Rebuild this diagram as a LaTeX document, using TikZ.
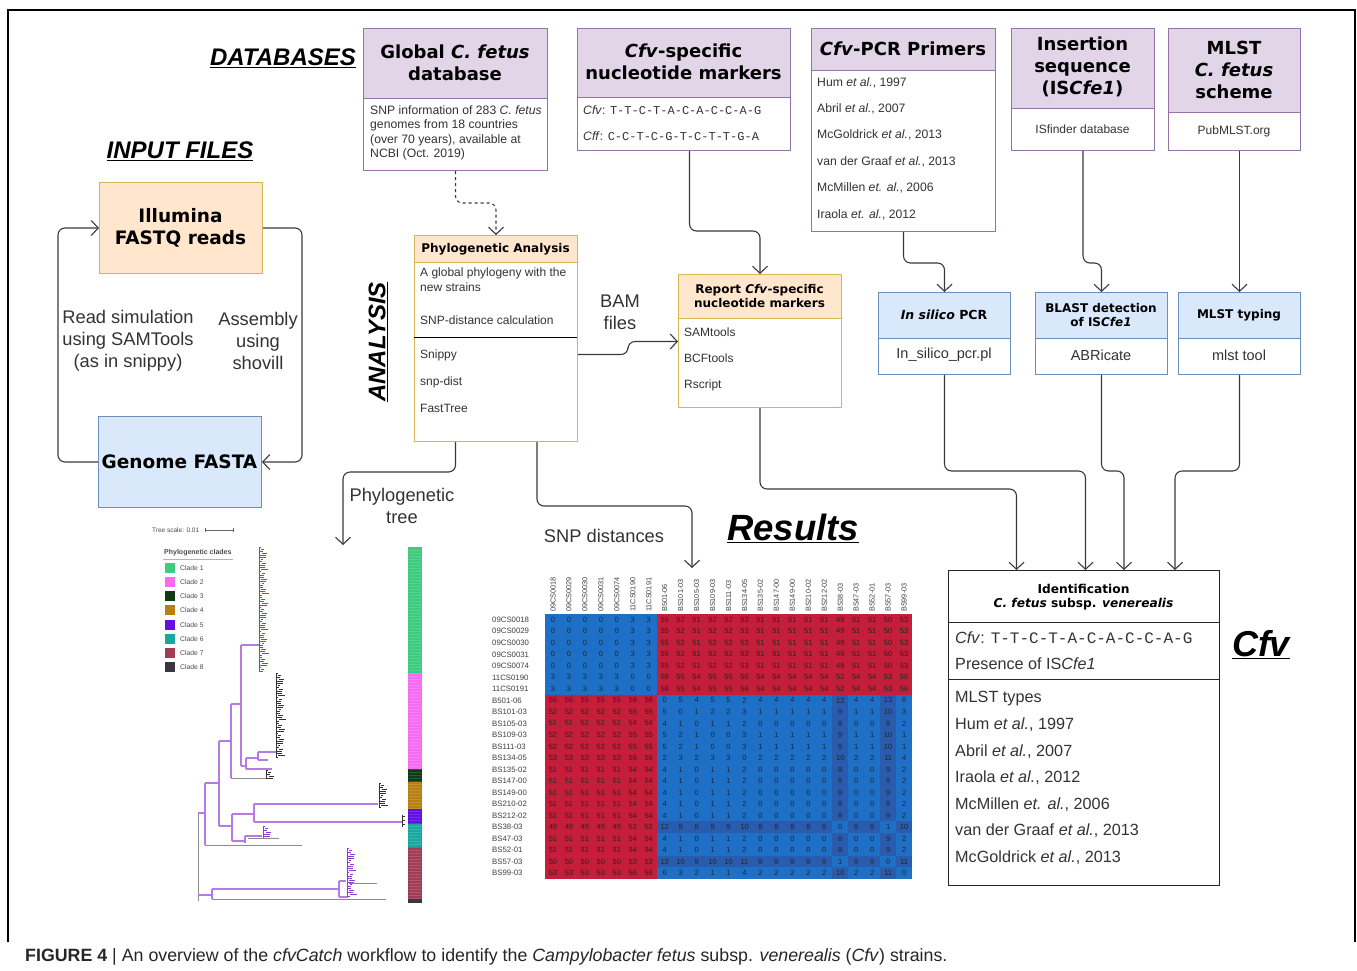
\documentclass[tikz,border=0pt]{standalone}
\usepackage{fontspec}
\setmainfont{Liberation Sans}
\newfontfamily\hfont{DejaVu Sans}
\newfontfamily\monofont{Liberation Mono}
\usetikzlibrary{arrows.meta}
\newcommand{\fs}[2]{\fontsize{#1}{#2}\selectfont}
\definecolor{purpfill}{HTML}{E1D5E7}
\definecolor{purpline}{HTML}{9673A6}
\definecolor{orfill}{HTML}{FFE6CC}
\definecolor{orline}{HTML}{D6B656}
\definecolor{blfill}{HTML}{DAE8FC}
\definecolor{blline}{HTML}{6C8EBF}
\definecolor{conncol}{HTML}{3A3A3A}
\definecolor{hred}{HTML}{C41E3A}
\definecolor{hblue}{HTML}{1E6FC6}
\definecolor{hbluetwo}{HTML}{2A5CAE}
\definecolor{treep}{HTML}{B57AE6}
\definecolor{treed}{HTML}{8A3AD8}
\definecolor{cA}{HTML}{3DCB7E}
\definecolor{cB}{HTML}{F66CF0}
\definecolor{cC}{HTML}{0F3A14}
\definecolor{cD}{HTML}{B88010}
\definecolor{cE}{HTML}{6010E0}
\definecolor{cF}{HTML}{18A8A0}
\definecolor{cG}{HTML}{A03C55}
\definecolor{cH}{HTML}{3A3640}
\def\hA{0,0,0,0,0,3,3,55,52,51,52,52,53,51,51,51,51,51,49,51,51,50,53}
\def\hB{3,3,3,3,3,0,0,58,55,54,55,55,56,54,54,54,54,54,52,54,54,53,56}
\def\hC{55,55,55,55,55,58,58,0,5,4,5,5,2,4,4,4,4,4,12,4,4,13,6}
\def\hD{52,52,52,52,52,55,55,5,0,1,2,2,3,1,1,1,1,1,9,1,1,10,3}
\def\hE{51,51,51,51,51,54,54,4,1,0,1,1,2,0,0,0,0,0,8,0,0,9,2}
\def\hF{52,52,52,52,52,55,55,5,2,1,0,0,3,1,1,1,1,1,9,1,1,10,1}
\def\hG{53,53,53,53,53,56,56,2,3,2,3,3,0,2,2,2,2,2,10,2,2,11,4}
\def\hH{49,49,49,49,49,52,52,12,9,8,9,9,10,8,8,8,8,8,0,8,8,1,10}
\def\hI{50,50,50,50,50,53,53,13,10,9,10,10,11,9,9,9,9,9,1,9,9,0,11}
\def\hJ{53,53,53,53,53,56,56,6,3,2,1,1,4,2,2,2,2,2,10,2,2,11,0}
\newcommand{\treecomb}[4]{%
  \draw[#4, line width=0.7pt] (#1,#2) -- (#1,#3);
  \pgfmathtruncatemacro\nn{(#3-#2)/2}
  \foreach \k in {0,...,\nn}{%
    \pgfmathsetmacro\len{2+mod(\k*7,6)}
    \pgfmathsetmacro\off{mod(\k*3,5)*0.8}
    \draw[#4, line width=0.6pt] ({#1+\off-0.5},{#2+\k*2}) -- ++(\len,0);
  }}
\tikzset{
  frame/.style={draw, line width=1pt, inner sep=0pt, anchor=north west},
  phdr/.style={frame, draw=purpline, fill=purpfill},
  pbody/.style={frame, draw=purpline, fill=white},
  ohdr/.style={frame, draw=orline, fill=orfill},
  obody/.style={frame, draw=orline, fill=white},
  bhdr/.style={frame, draw=blline, fill=blfill},
  bbody/.style={frame, draw=blline, fill=white},
  htitle/.style={inner sep=0pt, align=center, font=\hfont\bfseries\fs{18}{21.8}},
  item/.style={inner sep=0pt, anchor=west, text=black!80, font=\fs{12.2}{14.6}},
  citem/.style={inner sep=0pt, text=black!80, font=\fs{12}{14}},
  tcell/.style={inner sep=0pt, text=black!80, font=\fs{14.5}{16}},
  lab/.style={inner sep=0pt, align=center, text=black!80, font=\fs{18.3}{22}},
  conn/.style={draw=conncol, line width=1.1pt, rounded corners=7pt, -{Straight Barb[length=7pt,width=15pt]}},
  sect/.style={inner sep=0pt, font=\bfseries\itshape\fs{24}{24}},
  tp/.style={draw=treep, line width=1.1pt},
  tg/.style={draw=black!45, line width=1pt},
  cell/.style={inner sep=0pt, text=black!85, font=\fs{7.5}{7.5}},
  rowlab/.style={inner sep=0pt, anchor=west, text=black!75, font=\fs{7.8}{7.8}},
  leg/.style={inner sep=0pt, anchor=west, text=black!70, font=\fs{6.8}{7}}
}
\begin{document}
\begin{tikzpicture}[x=1pt,y=-1pt]
\useasboundingbox (0,0) rectangle (1357,970);
\fill[white] (0,0) rectangle (1357,970);
% outer frame
\draw[line width=1.2pt] (8,942) -- (8,10) -- (1355,10) -- (1355,942);

% section titles
\node[sect] (tdb) at (283,58) {\underline{DATABASES}};
\node[sect] (tin) at (180,151) {\underline{INPUT FILES}};
\node[sect, rotate=90] (tan) at (378,342) {\underline{ANALYSIS}};
\node[sect, font=\bfseries\itshape\fs{36.5}{36}] (tres) at (793,528) {\underline{Results}};
\node[sect, font=\bfseries\itshape\fs{36}{36}] (tcfv) at (1261,645) {\underline{Cfv}};

% ---------- database boxes
\node[phdr, minimum width=184, minimum height=70] (gdbH) at (363,28) {};
\node[pbody, minimum width=184, minimum height=72] (gdb) at (363,98) {};
\node[htitle] at (455,63) {Global \textit{C. fetus}\\database};
\node[item, anchor=north west, align=left, font=\fs{12.2}{14.6}] at (370,105) {SNP information of 283 \textit{C. fetus}\\genomes from 18 countries\\(over 70 years), available at\\NCBI (Oct. 2019)};

\node[phdr, minimum width=213, minimum height=69] (cfvmH) at (577,28) {};
\node[pbody, minimum width=213, minimum height=53] (cfvm) at (577,97) {};
\node[htitle] at (683.5,62) {\textit{Cfv}-specific\\nucleotide markers};
\node[item] at (583,110) {\textit{Cfv}: {\monofont\fs{12}{14}T-T-C-T-A-C-A-C-C-A-G}};
\node[item] at (583,136) {\textit{Cff}: {\monofont\fs{12}{14}C-C-T-C-G-T-C-T-T-G-A}};

\node[phdr, minimum width=184, minimum height=42] (pcrH) at (811,28) {};
\node[pbody, minimum width=184, minimum height=161] (pcr) at (811,70) {};
\node[htitle] at (903,49) {\textit{Cfv}-PCR Primers};
\node[item] at (817,83) {Hum \textit{et al.}, 1997};
\node[item] at (817,109) {Abril \textit{et al.}, 2007};
\node[item] at (817,135) {McGoldrick \textit{et al.}, 2013};
\node[item] at (817,162) {van der Graaf \textit{et al.}, 2013};
\node[item] at (817,188) {McMillen \textit{et. al.}, 2006};
\node[item] at (817,215) {Iraola \textit{et. al.}, 2012};

\node[phdr, minimum width=143, minimum height=80] (insH) at (1011,28) {};
\node[pbody, minimum width=143, minimum height=42] (ins) at (1011,108) {};
\node[htitle] at (1082.5,67) {Insertion\\sequence\\(IS\textit{Cfe1})};
\node[citem] at (1082.5,129) {ISfinder database};

\node[phdr, minimum width=132, minimum height=84] (mlsH) at (1168,28) {};
\node[pbody, minimum width=132, minimum height=38] (mls) at (1168,112) {};
\node[htitle] at (1234,70) {MLST\\\textit{C. fetus}\\scheme};
\node[citem] at (1234,131) {PubMLST.org};

% ---------- input files
\node[frame, draw=orline, fill=orfill, minimum width=163, minimum height=91] (ill) at (99,182) {};
\node[htitle, font=\hfont\bfseries\fs{18.5}{22}] at (180.5,227.5) {Illumina\\FASTQ reads};
\node[frame, draw=blline, fill=blfill, minimum width=163, minimum height=91] (gen) at (98,416) {};
\node[htitle, font=\hfont\bfseries\fs{18.5}{22}] at (179.5,462) {Genome FASTA};
\draw[conn] (ill.east) -- ++(39,0) |- (gen.east);
\draw[conn] (gen.west) -- ++(-40,0) |- (ill.west);
\node[lab] (lrs) at (128,341) {Read simulation\\using SAMTools\\(as in snippy)};
\node[lab] (las) at (258,341) {Assembly\\using\\shovill};

% ---------- analysis
\node[ohdr, minimum width=163, minimum height=27] (phyH) at (414,235) {};
\node[obody, minimum width=163, minimum height=179] (phy) at (414,262) {};
\draw[line width=1pt] (414,337) -- (577,337);
\node[htitle, font=\hfont\bfseries\fs{12}{14}] at (495.5,249) {Phylogenetic Analysis};
\tikzset{pitem/.style={item, font=\fs{12}{14.5}}}
\node[pitem, anchor=north west, align=left] at (420,268) {A global phylogeny with the\\new strains};
\node[pitem] at (420,320) {SNP-distance calculation};
\node[pitem] at (420,355) {Snippy};
\node[pitem] at (420,382) {snp-dist};
\node[pitem] at (420,408) {FastTree};

\node[ohdr, minimum width=163, minimum height=44] (repH) at (678,274) {};
\node[obody, minimum width=163, minimum height=89] (rep) at (678,318) {};
\node[htitle, font=\hfont\bfseries\fs{12}{14}] at (759.5,296) {Report \textit{Cfv}-specific\\nucleotide markers};
\node[pitem] at (684,332) {SAMtools};
\node[pitem] at (684,358) {BCFtools};
\node[pitem] at (684,385) {Rscript};

% ---------- tools
\node[bhdr, minimum width=132, minimum height=46] (silH) at (878,292) {};
\node[bbody, minimum width=132, minimum height=36] (sil) at (878,338) {};
\node[htitle, font=\hfont\bfseries\fs{12.5}{15}] at (944,315) {\textit{In silico} PCR};
\node[tcell] at (944,355) {In\_silico\_pcr.pl};

\node[bhdr, minimum width=132, minimum height=46] (blaH) at (1035,292) {};
\node[bbody, minimum width=132, minimum height=36] (bla) at (1035,338) {};
\node[htitle, font=\hfont\bfseries\fs{12}{14}] at (1101,315) {BLAST detection\\of IS\textit{Cfe1}};
\node[tcell] at (1101,355) {ABRicate};

\node[bhdr, minimum width=122, minimum height=46] (mltH) at (1178,292) {};
\node[bbody, minimum width=122, minimum height=36] (mlt) at (1178,338) {};
\node[htitle, font=\hfont\bfseries\fs{12}{14}] at (1239,315) {MLST typing};
\node[tcell] at (1239,355) {mlst tool};

% ---------- Cfv result box
\node[frame, draw=black!85, fill=white, minimum width=271, minimum height=315] (cfv) at (948,570) {};
\draw[line width=1pt, black!85] (948,622) -- (1219,622);
\draw[line width=1pt, black!85] (948,679) -- (1219,679);
\node[htitle, font=\hfont\bfseries\fs{12.2}{14.5}] at (1083.5,597) {Identification\\\textit{C. fetus} subsp. \textit{venerealis}};
\tikzset{bitem/.style={item, font=\fs{16.2}{18}}}
\node[bitem] at (955,638) {\textit{Cfv}: {\monofont\fs{16}{18}T-T-C-T-A-C-A-C-C-A-G}};
\node[bitem] at (955,664) {Presence of IS\textit{Cfe1}};
\node[bitem] at (955,699) {MLST types};
\node[bitem] at (955,725) {Hum \textit{et al.}, 1997};
\node[bitem] at (955,752) {Abril \textit{et al.}, 2007};
\node[bitem] at (955,778) {Iraola \textit{et al.}, 2012};
\node[bitem] at (955,805) {McMillen \textit{et. al.}, 2006};
\node[bitem] at (955,831) {van der Graaf \textit{et al.}, 2013};
\node[bitem] at (955,858) {McGoldrick \textit{et al.}, 2013};

% ---------- connectors
\draw[conn, dashed] (gdb.south) -- ++(0,32) -| (phyH.north);
\draw[conn] ([xshift=5.5]cfvm.south) -- ++(0,80) -| (repH.north);
\draw[conn] ([yshift=-2.5]phy.east) -- ++(50,0) -- ++(0,-13) -- ([yshift=21.5]rep.west);
\node[lab, font=\fs{18.3}{22}] (lbam) at (620,312) {BAM\\files};
\coordinate (treeIn) at (343,545);
\coordinate (snpIn) at (692,568);
\draw[conn] ([xshift=-40.5]phy.south) -- ++(0,30) -| (treeIn);
\node[lab] (lpt) at (402,506) {Phylogenetic\\tree};
\draw[conn] ([xshift=41]phy.south) -- ++(0,64) -| (snpIn);
\node[lab] (lsnp) at (604,536) {SNP distances};
\draw[conn] (rep.south) -- ++(0,81) -| ([xshift=-67.5]cfv.north);
\draw[conn] (pcr.south) -- ++(0,31) -| (silH.north);
\draw[conn] (ins.south) -- ++(0,112) -| (blaH.north);
\draw[conn] (mls.south -| mltH.north) -- (mltH.north);
\draw[conn] (sil.south) -- ++(0,96) -| ([xshift=1.5]cfv.north);
\draw[conn] (bla.south) -- ++(0,96) -| ([xshift=40]cfv.north);
\draw[conn] (mlt.south) -- ++(0,96) -| ([xshift=91]cfv.north);

% ---------- heatmap
\foreach \lab [count=\j] in {09CS0018,09CS0029,09CS0030,09CS0031,09CS0074,11CS0190,11CS0191,B501-06,BS101-03,BS105-03,BS109-03,BS111-03,BS134-05,BS135-02,BS147-00,BS149-00,BS210-02,BS212-02,BS38-03,BS47-03,BS52-01,BS57-03,BS99-03}{
  \node[rowlab, rotate=90, font=\fs{7.3}{7.3}] at ({545+(\j-0.5)*15.96},612) {\lab};
}
\foreach \lab/\vals [count=\i] in {09CS0018/\hA,09CS0029/\hA,09CS0030/\hA,09CS0031/\hA,09CS0074/\hA,11CS0190/\hB,11CS0191/\hB,B501-06/\hC,BS101-03/\hD,BS105-03/\hE,BS109-03/\hF,BS111-03/\hF,BS134-05/\hG,BS135-02/\hE,BS147-00/\hE,BS149-00/\hE,BS210-02/\hE,BS212-02/\hE,BS38-03/\hH,BS47-03/\hE,BS52-01/\hE,BS57-03/\hI,BS99-03/\hJ}{
  \node[rowlab] at (492,{614+(\i-0.5)*11.52}) {\lab};
  \edef\tmp{\vals}
  \foreach \v [count=\j] in \tmp {
    \ifnum\v>40 \def\cc{hred}\else\ifnum\v>6 \def\cc{hbluetwo}\else\def\cc{hblue}\fi\fi
    \fill[\cc] ({545+(\j-1)*15.96},{614+(\i-1)*11.52}) rectangle ++(16.3,11.8);
    \node[cell] at ({545+(\j-0.5)*15.96},{614+(\i-0.5)*11.52}) {\v};
  }
}

% ---------- tree
\node[leg, font=\fs{6.5}{7}] at (152,530) {Tree scale: 0.01};
\draw[black!60, line width=0.5pt] (205,530) -- (233,530) (205,528) -- (205,532) (233,528) -- (233,532);
\node[leg, font=\bfseries\fs{7}{7}] at (164,553) {Phylogenetic clades};
\draw[black!30, line width=0.5pt] (163,559) -- (233,559);
\foreach \c/\yy [count=\k] in {cA/568,cB/582,cC/596,cD/610,cE/625,cF/639,cG/653,cH/667}{
  \fill[\c] (165,\yy-5) rectangle ++(10,10);
  \node[leg] at (180,\yy) {Clade \k};
}
\fill[cA] (408,547) rectangle (422,673);
\fill[cB] (408,673) rectangle (422,769);
\fill[cC] (408,769) rectangle (422,782);
\fill[cD] (408,782) rectangle (422,809);
\fill[cE] (408,809) rectangle (422,824);
\fill[cF] (408,824) rectangle (422,847);
\fill[cG] (408,847) rectangle (422,899);
\fill[cH] (408,899) rectangle (422,903);
\foreach \yy in {550,553,...,900}{\draw[white, opacity=0.15, line width=0.3pt] (409,\yy) -- (421,\yy);}

\draw[tg] (198,813) -- (198,901);
\draw[tp] (198,813) -- (205,813);
\draw[tp] (205,783) -- (205,845);
\draw[tg] (205,845) -- (302,845);
\draw[tp] (198,895) -- (212,895);
\draw[tp] (212,889) -- (212,899);
\draw[tp] (212,889) -- (339,889);
\draw[tg] (212,899) -- (386,899);
\draw[tp] (339,881) -- (339,897) (339,881) -- (346,881) (339,897) -- (348,897);
\treecomb{347}{848}{897}{treed}
\draw[tg] (349,883) -- (377,883);
\draw[tp] (205,783) -- (219,783);
\draw[tp] (219,741) -- (219,826);
\draw[tp] (219,826) -- (232,826);
\draw[tp] (232,814) -- (232,841);
\draw[tp] (232,814) -- (254,814);
\draw[tp] (254,804) -- (254,822);
\draw[tp] (254,804) -- (378,804);
\draw[tp] (254,822) -- (402,822);
\treecomb{379}{783}{808}{black!80}
\draw[black!80, line width=0.8pt] (402,815) -- (402,827) (402,816) -- ++(3,0) (402,820) -- ++(3,0) (402,824) -- ++(3,0);
\draw[tp] (232,841) -- (245,841);
\draw[tp] (245,836) -- (245,843);
\draw[tp] (245,836) -- (262,836);
\treecomb{263}{826}{838}{treed}
\draw[tg] (248,838) -- (279,838);
\draw[tp] (219,741) -- (231,741);
\draw[tp] (231,704) -- (231,778);
\draw[tg] (231,778) -- (266,778);
\treecomb{266}{770}{779}{black!80}
\draw[tp] (231,704) -- (241,704);
\draw[tp] (241,645) -- (241,766);
\draw[tp] (241,645) -- (259,645);
\treecomb{259}{547}{672}{treed}
\draw[tp] (241,766) -- (246,766);
\draw[tp] (246,758) -- (246,769);
\draw[tp] (246,769) -- (272,769);
\draw[tp] (246,758) -- (258,758);
\draw[tp] (258,752) -- (258,760) (258,752) -- (276,752) (258,760) -- (268,760);
\treecomb{276}{673}{757}{black!80}

% ---------- caption
\node[inner sep=0pt, anchor=west, text=black!85, font=\fs{17.8}{20}] (cap) at (25,957) {\textbf{FIGURE 4} | An overview of the \textit{cfvCatch} workflow to identify the \textit{Campylobacter fetus} subsp. \textit{venerealis} (\textit{Cfv}) strains.};
\end{tikzpicture}
\end{document}
